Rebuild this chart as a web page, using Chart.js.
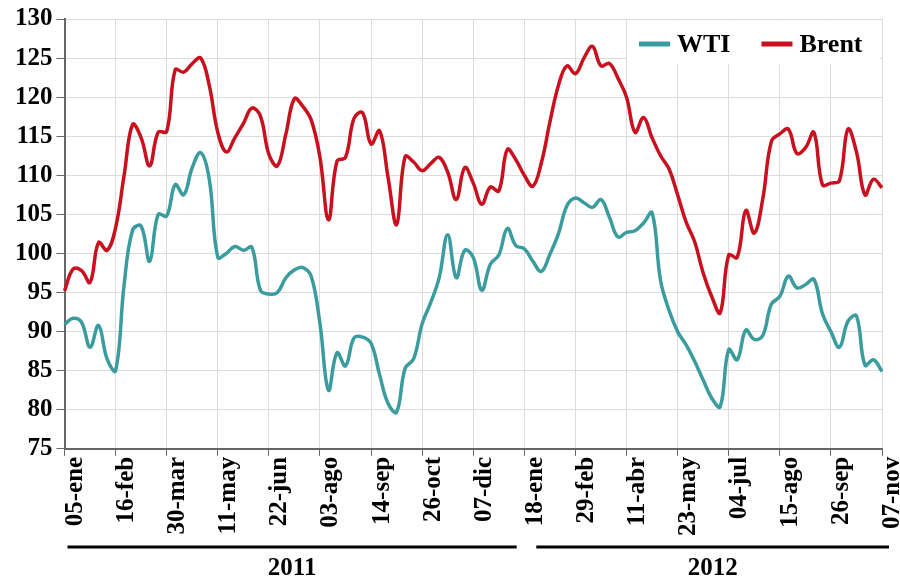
<!DOCTYPE html>
<html><head><meta charset="utf-8">
<script src="https://cdn.jsdelivr.net/npm/chart.js@4/dist/chart.umd.min.js"></script>
<style>html,body{margin:0;padding:0;background:#fff}#wrap{width:900px;height:579px;position:relative}</style>
</head><body><div id="wrap"><canvas id="c"></canvas></div>
<script>
const categories = [
 '05-ene','12-ene','19-ene','26-ene','02-feb','09-feb','16-feb','23-feb','02-mar','09-mar','16-mar','23-mar',
 '30-mar','06-abr','13-abr','20-abr','27-abr','04-may','11-may','18-may','25-may','01-jun','08-jun','15-jun',
 '22-jun','29-jun','06-jul','13-jul','20-jul','27-jul','03-ago','10-ago','17-ago','24-ago','31-ago','07-sep',
 '14-sep','21-sep','28-sep','05-oct','12-oct','19-oct','26-oct','02-nov','09-nov','16-nov','23-nov','30-nov',
 '07-dic','14-dic','21-dic','28-dic','04-ene','11-ene','18-ene','25-ene','01-feb','08-feb','15-feb','22-feb',
 '29-feb','07-mar','14-mar','21-mar','28-mar','04-abr','11-abr','18-abr','25-abr','02-may','09-may','16-may',
 '23-may','30-may','06-jun','13-jun','20-jun','27-jun','04-jul','11-jul','18-jul','25-jul','01-ago','08-ago',
 '15-ago','22-ago','29-ago','05-sep','12-sep','19-sep','26-sep','03-oct','10-oct','17-oct','24-oct','31-oct',
 '07-nov'];
const tickIndexes = [0,6,12,18,24,30,36,42,48,54,60,66,72,78,84,90,96];
const tickLabels = ['05-ene','16-feb','30-mar','11-may','22-jun','03-ago','14-sep','26-oct','07-dic',
 '18-ene','29-feb','11-abr','23-may','04-jul','15-ago','26-sep','07-nov'];
const yearLabels = ['2011','2012'];
const seriesNames = ['WTI','Brent'];
const wti = [
 90.9,91.7,91.2,88,90.8,86.5,85,96,103,103.5,99,105,
 104.8,108.8,107.5,111,112.9,109.5,99.5,100,100.9,100.4,100.8,95.3,
 94.8,95,96.9,97.9,98.2,97,91,82.5,87.3,85.6,89.2,89.3,
 88.5,84.5,80.8,79.7,85.3,86.5,91,93.7,96.9,102.4,96.9,100.4,
 99.5,95.3,98.6,99.8,103.2,101,100.6,99,97.7,99.9,102.5,106.1,
 107.1,106.5,105.9,106.9,104.6,102.1,102.7,102.9,103.9,105.2,96.5,92.7,
 90,88.3,86.2,83.8,81.5,80.4,87.7,86.4,90.2,89,89.5,93.5,
 94.5,97.1,95.6,96,96.7,92.3,90,88,91.3,92,85.7,86.4,
 84.9];
const brent = [
 95.2,98,97.8,96.3,101.4,100.4,103.3,110,116.5,114.8,111.2,115.5,
 115.6,123.5,123.2,124.3,125,121.5,115.5,113,114.8,116.6,118.6,117.6,
 112.7,111.2,115.3,119.8,118.8,117,112.3,104.3,111.8,112.3,117.3,118,
 114,115.7,109.7,103.7,112.4,111.7,110.6,111.5,112.3,110.4,106.9,111,
 109,106.3,108.5,108,113.3,112,110,108.6,111.6,116.8,121.5,124,
 123,125,126.5,124,124.3,122.4,120,115.5,117.4,114.8,112.5,110.8,
 107.5,104,101.5,97.5,94.5,92.4,99.8,99.5,105.5,102.6,107,114.3,
 115.3,115.9,112.8,113.5,115.5,108.8,109,109.3,115.9,113,107.5,109.5,
 108.4];
const yMin = 75, yMax = 130, yStep = 5;

const FONT = 'Liberation Serif, "Times New Roman", serif';

const legendPlugin = {
  id: 'customLegend',
  afterDraw(chart) {
    const ctx = chart.ctx, a = chart.chartArea;
    ctx.save();
    ctx.fillStyle = '#fff';
    ctx.fillRect(a.right - 255, a.top + 1.5, 253, 44);
    ctx.font = 'bold 26px ' + FONT;
    ctx.textBaseline = 'middle';
    ctx.textAlign = 'left';
    let x = a.right - 243;
    const y = a.top + 25;
    chart.data.datasets.forEach((ds, i) => {
      ctx.strokeStyle = ds.borderColor;
      ctx.lineWidth = 5;
      ctx.beginPath(); ctx.moveTo(x, y); ctx.lineTo(x + 31, y); ctx.stroke();
      ctx.fillStyle = '#000';
      ctx.fillText(ds.label, x + 38, y + 1);
      x += 38 + ctx.measureText(ds.label).width + 31;
    });
    ctx.restore();
  }
};

const yearPlugin = {
  id: 'years',
  afterDraw(chart) {
    const ctx = chart.ctx, xs = chart.scales.x;
    const H = chart.height;
    const spans = [[xs.getPixelForValue(0) + 3, xs.getPixelForValue(53.1)],
                   [xs.getPixelForValue(55.4), xs.getPixelForValue(96) + 7]];
    ctx.save();
    ctx.strokeStyle = '#000';
    ctx.lineWidth = 3;
    ctx.fillStyle = '#000';
    ctx.font = 'bold 25px ' + FONT;
    ctx.textAlign = 'center';
    ctx.textBaseline = 'middle';
    spans.forEach((s, i) => {
      ctx.beginPath(); ctx.moveTo(s[0], H - 32); ctx.lineTo(s[1], H - 32); ctx.stroke();
      ctx.fillText(yearLabels[i], (s[0] + s[1]) / 2, H - 10);
    });
    ctx.restore();
  }
};

new Chart(document.getElementById('c'), {
  type: 'line',
  data: {
    labels: categories,
    datasets: [
      { label: seriesNames[0], data: wti, borderColor: '#3b9ca0', borderWidth: 3.5, tension: 0.4, pointRadius: 0, fill: false },
      { label: seriesNames[1], data: brent, borderColor: '#c8101e', borderWidth: 3.5, tension: 0.4, pointRadius: 0, fill: false }
    ]
  },
  options: {
    responsive: true,
    maintainAspectRatio: false,
    animation: false,
    devicePixelRatio: 1,
    layout: { padding: { left: 11, right: 18, top: 9.5, bottom: 42 } },
    plugins: { legend: { display: false }, tooltip: { enabled: false } },
    scales: {
      x: {
        afterFit(scale) { scale.paddingRight = 0; scale.paddingLeft = 0; },
        grid: { color: '#dcdcdc', lineWidth: 1, tickColor: '#666', tickLength: 7 },
        border: { color: '#666', width: 2 },
        ticks: {
          autoSkip: false, maxRotation: 90, minRotation: 90, labelOffset: 11, padding: 1,
          color: '#000', font: { family: FONT, size: 25, weight: 'bold' },
          callback: function(v, i) { const k = tickIndexes.indexOf(i); return k >= 0 ? tickLabels[k] : null; }
        }
      },
      y: {
        min: yMin, max: yMax,
        grid: { color: '#dcdcdc', lineWidth: 1, tickColor: '#666', tickLength: 8 },
        border: { color: '#666', width: 2 },
        ticks: { stepSize: yStep, padding: 4, color: '#000', font: { family: FONT, size: 25, weight: 'bold' } }
      }
    }
  },
  plugins: [legendPlugin, yearPlugin]
});
</script></body></html>
